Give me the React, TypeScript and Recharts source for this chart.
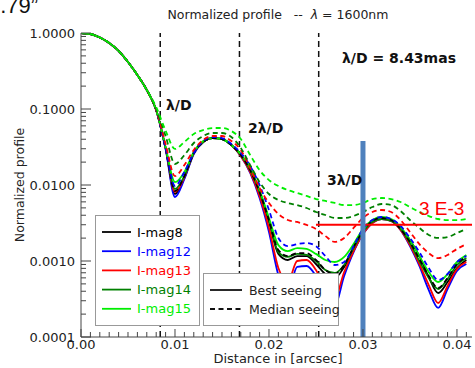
import { LineChart, Line, XAxis, YAxis, ReferenceLine } from 'recharts'

// distance grid (arcsec)
const distance = [
  0, 0.001, 0.002, 0.003, 0.004, 0.005, 0.006, 0.007, 0.008, 0.009,
  0.01, 0.011, 0.012, 0.013, 0.014, 0.015, 0.016, 0.017, 0.018, 0.019,
  0.02, 0.021, 0.022, 0.023, 0.024, 0.025, 0.026, 0.027, 0.028, 0.029,
  0.03, 0.031, 0.032, 0.033, 0.034, 0.035, 0.036, 0.037, 0.038, 0.039,
  0.04, 0.041,
]

// best seeing (solid)
const best8 = [1.0, 0.970, 0.872, 0.739, 0.580, 0.415, 0.280, 0.178, 0.0970, 0.0307, 0.00761, 0.0124, 0.0264, 0.0368, 0.0415, 0.0403, 0.0336, 0.0248, 0.0157, 0.00785, 0.00326, 0.00124, 0.00103, 0.00116, 0.00116, 0.000913, 0.000674, 0.000597, 0.000834, 0.00139, 0.00233, 0.00326, 0.00368, 0.00346, 0.00272, 0.00189, 0.00116, 0.000616, 0.000379, 0.000529, 0.000809, 0.00103]
const best12 = [1.0, 0.970, 0.872, 0.739, 0.580, 0.415, 0.280, 0.178, 0.0970, 0.0298, 0.00695, 0.0120, 0.0256, 0.0368, 0.0415, 0.0403, 0.0336, 0.0241, 0.0144, 0.00674, 0.00241, 0.000654, 0.000391, 0.000834, 0.000859, 0.000635, 0.000357, 0.000264, 0.000635, 0.00131, 0.00226, 0.00316, 0.00357, 0.00336, 0.00256, 0.00157, 0.000859, 0.000415, 0.000241, 0.000428, 0.000739, 0.000913]
const best13 = [1.0, 0.970, 0.872, 0.739, 0.580, 0.415, 0.280, 0.178, 0.0970, 0.0307, 0.00809, 0.0127, 0.0264, 0.0368, 0.0415, 0.0403, 0.0336, 0.0241, 0.0148, 0.00717, 0.00272, 0.000809, 0.000529, 0.00100, 0.00103, 0.000761, 0.000441, 0.000326, 0.000717, 0.00135, 0.00226, 0.00316, 0.00357, 0.00336, 0.00256, 0.00162, 0.000913, 0.000483, 0.000280, 0.000469, 0.000785, 0.000970]
const best14 = [1.0, 0.970, 0.872, 0.739, 0.580, 0.415, 0.280, 0.178, 0.0970, 0.0307, 0.00886, 0.0131, 0.0264, 0.0368, 0.0415, 0.0403, 0.0336, 0.0248, 0.0157, 0.00809, 0.00346, 0.00131, 0.00113, 0.00124, 0.00120, 0.00100, 0.000761, 0.000695, 0.000886, 0.00148, 0.00241, 0.00326, 0.00357, 0.00336, 0.00264, 0.00172, 0.00100, 0.000597, 0.000428, 0.000580, 0.000886, 0.00109]
const best15 = [1.0, 0.970, 0.872, 0.739, 0.580, 0.415, 0.280, 0.178, 0.0970, 0.0316, 0.0109, 0.0148, 0.0272, 0.0379, 0.0415, 0.0403, 0.0336, 0.0256, 0.0167, 0.00859, 0.00368, 0.00162, 0.00135, 0.00148, 0.00144, 0.00124, 0.00103, 0.000970, 0.00113, 0.00167, 0.00264, 0.00346, 0.00379, 0.00357, 0.00280, 0.00189, 0.00116, 0.000717, 0.000529, 0.000674, 0.000970, 0.00120]

// median seeing (dashed)
const med8 = [1.0, 0.970, 0.872, 0.739, 0.580, 0.415, 0.280, 0.178, 0.0970, 0.0307, 0.00834, 0.0131, 0.0264, 0.0368, 0.0415, 0.0403, 0.0336, 0.0248, 0.0157, 0.00809, 0.00346, 0.00139, 0.00116, 0.00127, 0.00127, 0.00103, 0.000761, 0.000674, 0.000886, 0.00153, 0.00248, 0.00336, 0.00368, 0.00346, 0.00264, 0.00178, 0.00106, 0.000635, 0.000441, 0.000597, 0.000913, 0.00113]
const med12 = [1.0, 0.970, 0.872, 0.739, 0.580, 0.415, 0.280, 0.178, 0.0970, 0.0307, 0.00970, 0.0148, 0.0264, 0.0379, 0.0428, 0.0415, 0.0346, 0.0264, 0.0178, 0.0100, 0.00469, 0.00201, 0.00157, 0.00167, 0.00172, 0.00157, 0.00116, 0.000886, 0.000970, 0.00157, 0.00264, 0.00346, 0.00379, 0.00357, 0.00289, 0.00201, 0.00131, 0.000809, 0.000562, 0.000674, 0.000970, 0.00116]
const med13 = [1.0, 0.970, 0.872, 0.739, 0.580, 0.415, 0.280, 0.178, 0.0970, 0.0346, 0.0131, 0.0183, 0.0289, 0.0391, 0.0441, 0.0441, 0.0379, 0.0289, 0.0167, 0.00913, 0.00580, 0.00415, 0.00346, 0.00326, 0.00298, 0.00264, 0.00213, 0.00178, 0.00201, 0.00272, 0.00368, 0.00441, 0.00469, 0.00441, 0.00346, 0.00241, 0.00167, 0.00127, 0.00109, 0.00120, 0.00144, 0.00167]
const med14 = [1.0, 0.970, 0.872, 0.739, 0.580, 0.415, 0.280, 0.178, 0.100, 0.0441, 0.0189, 0.0248, 0.0357, 0.0441, 0.0483, 0.0483, 0.0428, 0.0307, 0.0183, 0.0109, 0.00761, 0.00635, 0.00580, 0.00545, 0.00498, 0.00441, 0.00403, 0.00368, 0.00368, 0.00391, 0.00441, 0.00513, 0.00562, 0.00545, 0.00455, 0.00346, 0.00272, 0.00220, 0.00201, 0.00207, 0.00233, 0.00264]
const med15 = [1.0, 0.970, 0.872, 0.739, 0.580, 0.415, 0.280, 0.178, 0.106, 0.0520, 0.0298, 0.0368, 0.0469, 0.0529, 0.0562, 0.0562, 0.0513, 0.0403, 0.0248, 0.0157, 0.0116, 0.00970, 0.00859, 0.00785, 0.00717, 0.00654, 0.00616, 0.00580, 0.00545, 0.00545, 0.00580, 0.00654, 0.00674, 0.00654, 0.00597, 0.00513, 0.00441, 0.00391, 0.00357, 0.00346, 0.00346, 0.00357]

const mags = ['I-mag8', 'I-mag12', 'I-mag13', 'I-mag14', 'I-mag15']
const colors = ['#000000', '#0000ff', '#ff0000', '#008000', '#00ee00']

const lambdaOverD = 0.00843
const ringLabels = ['λ/D', '2λ/D', '3λ/D']
const yMajor = [0.0001, 0.001, 0.01, 0.1, 1]
const limitLevel = 0.003
const markerX = 0.03

const rows = distance.map((x, i) => ({
  x,
  b8: best8[i], b12: best12[i], b13: best13[i], b14: best14[i], b15: best15[i],
  m8: med8[i], m12: med12[i], m13: med13[i], m14: med14[i], m15: med15[i],
}))

const bestKeys = ['b8', 'b12', 'b13', 'b14', 'b15']
const medKeys = ['m8', 'm12', 'm13', 'm14', 'm15']

const xTicks = distance
const yTicks: number[] = []
yMajor.slice(0, 4).forEach((d) => {
  for (let m = 1; m < 10; m++) yTicks.push(m * d)
})
yTicks.push(1)

const axisColor = '#444'
const font = '"DejaVu Sans", sans-serif'

const XTick = (props: any, side: 'bottom' | 'top') => {
  const { x, y, payload } = props
  const v = payload.value
  const major = Math.round(v * 1000) % 10 === 0
  const len = major ? 8 : 5
  const dir = side === 'bottom' ? -1 : 1
  return (
    <g>
      <line x1={x} x2={x} y1={y} y2={y + dir * len} stroke={axisColor} strokeWidth={1} />
      {side === 'bottom' && major && (
        <text x={x} y={y + 12} textAnchor="middle" fontSize={13} fill="#222" fontFamily={font}>
          {v.toFixed(2)}
        </text>
      )}
    </g>
  )
}

const YTick = (props: any, side: 'left' | 'right') => {
  const { x, y, payload } = props
  const v = payload.value
  const lg = Math.log10(v)
  const major = Math.abs(lg - Math.round(lg)) < 1e-6
  const len = major ? 10 : 5
  const dir = side === 'left' ? 1 : -1
  return (
    <g>
      <line x1={x} x2={x + dir * len} y1={y} y2={y} stroke={axisColor} strokeWidth={1} />
      {side === 'left' && major && (
        <text x={x - 6} y={y + 4.5} textAnchor="end" fontSize={13} fill="#222" fontFamily={font}>
          {v.toFixed(4)}
        </text>
      )}
    </g>
  )
}

export default function App() {
  return (
    <div style={{ position: 'absolute', left: 0, top: 0, width: 475, height: 368, background: '#fff', overflow: 'hidden', fontFamily: font }}>
      <LineChart width={475} height={368} data={rows} margin={{ top: 33, right: 3, bottom: 0, left: 0 }}>
        <XAxis
          xAxisId="b" dataKey="x" type="number" domain={[0, 0.0416]} ticks={xTicks} interval={0}
          height={31} tickSize={0} tickMargin={0} tickLine={false} axisLine={{ stroke: axisColor }}
          tick={(p: any) => XTick(p, 'bottom')} allowDataOverflow
        />
        <XAxis
          xAxisId="t" orientation="top" dataKey="x" type="number" domain={[0, 0.0416]} ticks={xTicks} interval={0}
          height={0} tickSize={0} tickMargin={0} tickLine={false} axisLine={{ stroke: axisColor }}
          tick={(p: any) => XTick(p, 'top')} allowDataOverflow
        />
        <YAxis
          yAxisId="l" scale="log" type="number" domain={[0.0001, 1]} ticks={yTicks} interval={0}
          width={81} tickSize={0} tickMargin={0} tickLine={false} axisLine={{ stroke: axisColor }}
          tick={(p: any) => YTick(p, 'left')} allowDataOverflow
        />
        <YAxis
          yAxisId="r" orientation="right" scale="log" type="number" domain={[0.0001, 1]} ticks={yTicks} interval={0}
          width={0} tickSize={0} tickMargin={0} tickLine={false} axisLine={{ stroke: axisColor }}
          tick={(p: any) => YTick(p, 'right')} allowDataOverflow
        />

        {ringLabels.map((_, k) => (
          <ReferenceLine
            key={'ring' + k} xAxisId="b" yAxisId="l" x={lambdaOverD * (k + 1)}
            stroke="#111" strokeWidth={1.5} strokeDasharray="6 4"
          />
        ))}

        {bestKeys.map((k, i) => (
          <Line
            key={k} xAxisId="b" yAxisId="l" dataKey={k} type="monotone" stroke={colors[i]}
            strokeWidth={1.8} dot={false} isAnimationActive={false}
          />
        ))}
        {medKeys.map((k, i) => (
          <Line
            key={k} xAxisId="b" yAxisId="l" dataKey={k} type="monotone" stroke={colors[i]}
            strokeWidth={1.8} strokeDasharray="5 3.5" dot={false} isAnimationActive={false}
          />
        ))}

        <ReferenceLine
          xAxisId="b" yAxisId="l"
          segment={[{ x: 0.025, y: limitLevel }, { x: 0.0416, y: limitLevel }]}
          stroke="#ff0000" strokeWidth={2}
        />
        <ReferenceLine
          xAxisId="b" yAxisId="l"
          segment={[{ x: markerX, y: 0.038 }, { x: markerX, y: 0.0001 }]}
          stroke="#4f81bd" strokeWidth={5}
        />
      </LineChart>

      <svg width={475} height={368} style={{ position: 'absolute', left: 0, top: 0, pointerEvents: 'none' }}>
        <text x={-12} y={13} fontSize={22} fontFamily='"Liberation Sans", sans-serif' fill="#111">0.79”</text>
        <text x={278} y={19} textAnchor="middle" fontSize={12.5} fill="#222" style={{ whiteSpace: 'pre' }}>
          Normalized profile{'   --  '}<tspan fontStyle="italic">λ</tspan> = 1600nm
        </text>
        <text transform="translate(19,185) rotate(-90)" textAnchor="middle" dominantBaseline="central" fontSize={12.5} fill="#222">
          Normalized profile
        </text>
        <text x={278} y={363} textAnchor="middle" fontSize={13} fill="#222">Distance in [arcsec]</text>

        <text x={166} y={110} fontSize={14} fontWeight="bold" fill="#111">{ringLabels[0]}</text>
        <text x={248} y={133} fontSize={14} fontWeight="bold" fill="#111">{ringLabels[1]}</text>
        <text x={327} y={185} fontSize={14} fontWeight="bold" fill="#111">{ringLabels[2]}</text>
        <text x={342} y={63} fontSize={14} fontWeight="bold" fill="#111">λ/D = 8.43mas</text>
        <text x={419} y={215} fontSize={19} fontFamily='"Liberation Sans", sans-serif' fill="#ff0000">3 E-3</text>

        <rect x={95.5} y={215.5} width={104} height={110} fill="#fff" stroke="#999" />
        {mags.map((m, i) => (
          <g key={m}>
            <line x1={102} x2={131} y1={232 + i * 19.2} y2={232 + i * 19.2} stroke={colors[i]} strokeWidth={1.8} />
            <text x={137} y={236.5 + i * 19.2} fontSize={13} fill={colors[i]}>{m}</text>
          </g>
        ))}

        <rect x={203.5} y={273.5} width={135} height={52} fill="#fff" stroke="#999" />
        <line x1={210} x2={242} y1={290} y2={290} stroke="#111" strokeWidth={1.8} />
        <text x={249} y={294.5} fontSize={12.5} fill="#222">Best seeing</text>
        <line x1={210} x2={242} y1={309} y2={309} stroke="#111" strokeWidth={1.8} strokeDasharray="5 3.5" />
        <text x={249} y={313.5} fontSize={12.5} fill="#222">Median seeing</text>
      </svg>
    </div>
  )
}
